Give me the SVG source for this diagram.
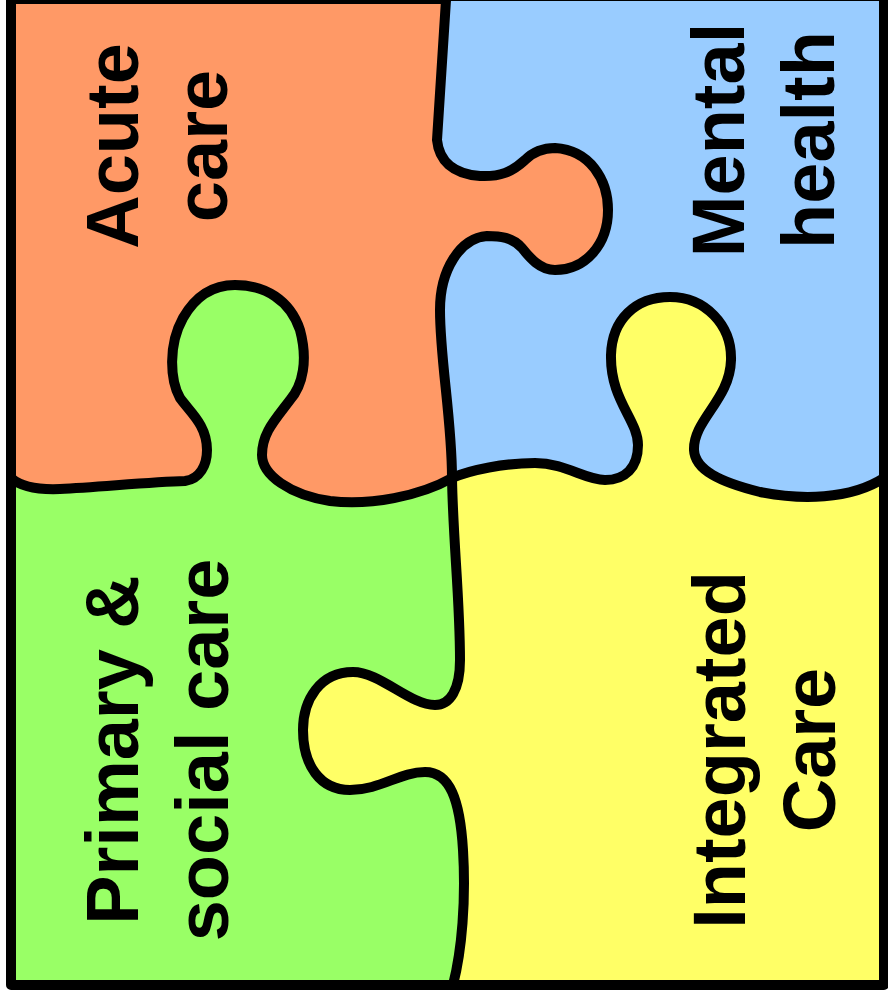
<svg xmlns="http://www.w3.org/2000/svg" width="888" height="999" viewBox="0 0 888 999">
<style>
.outline{fill:none;stroke:#000;stroke-width:10;stroke-linecap:round;stroke-linejoin:round}
.label{font-family:"Liberation Sans",Arial,Helvetica,sans-serif;font-weight:bold;font-size:74px;fill:#000;text-anchor:middle}
</style>
<rect width="888" height="999" fill="#ffffff"/>
<g id="integrated-care">
<rect x="11" y="-1" width="873" height="986" fill="#FFFF66"/>
<text class="label" transform="translate(745,750) rotate(-90)"><tspan x="0" y="0">Integrated</tspan><tspan x="0" y="90">Care</tspan></text>
</g>
<g id="acute-care">
<path fill="#FF9966" d="M11,-1 L446,-1 L446,0 L437,140 C439,160 452,174 480,176 C500,177 512,172 525,160 C535,150 545,148 555,148 C590,150 608,180 608,210 C608,245 585,270 555,270 C540,270 530,258 522,248 C512,237 500,236 487,236 C460,238 440,270 440,310 C440,360 452,420 452,478 L452,520 L11,520 Z"/>
<text class="label" transform="translate(138,146) rotate(-90)"><tspan x="0" y="0">Acute</tspan><tspan x="0" y="89">care</tspan></text>
</g>
<g id="mental-health">
<path fill="#99CCFF" d="M446,0 L437,140 C439,160 452,174 480,176 C500,177 512,172 525,160 C535,150 545,148 555,148 C590,150 608,180 608,210 C608,245 585,270 555,270 C540,270 530,258 522,248 C512,237 500,236 487,236 C460,238 440,270 440,310 C440,360 452,420 452,478 C470,470 505,463 535,463 C565,463 585,480 605,480 C625,480 638,468 638,445 C638,420 610,400 611,355 C612,320 635,297 670,297 C705,297 732,325 731,360 C730,400 693,420 694,450 C695,470 720,482 760,492 C800,500 850,500 884,478 L884,-4 L446,-4 Z"/>
<text class="label" transform="translate(744,140) rotate(-90)"><tspan x="0" y="0">Mental</tspan><tspan x="0" y="90">health</tspan></text>
</g>
<g id="primary-social-care">
<path fill="#99FF66" d="M11,478 C20,486 35,490 60,489 C100,487 150,482 185,481 C200,479 207,465 207,450 C207,425 190,412 180,398 C170,380 168,345 183,318 C195,297 212,285 235,285 C265,285 290,300 300,330 C308,360 303,385 290,400 C275,420 262,433 262,455 C262,475 290,495 330,501 C370,506 420,496 452,478 C453,540 460,600 460,660 C460,690 450,705 435,705 C410,705 380,672 353,672 C320,672 303,700 303,730 C303,765 320,790 350,790 C380,790 400,772 425,772 C450,772 460,800 463,850 C466,900 462,950 453,985 L11,985 Z"/>
<text class="label" transform="translate(138,750) rotate(-90)"><tspan x="0" y="0">Primary &amp;</tspan><tspan x="0" y="90">social care</tspan></text>
</g>
<g id="outlines">
<path class="outline" d="M446,-1 L11,-1 L11,985 L884,985 L884,-4 L446,-4"/>
<path class="outline" d="M446,0 L437,140 C439,160 452,174 480,176 C500,177 512,172 525,160 C535,150 545,148 555,148 C590,150 608,180 608,210 C608,245 585,270 555,270 C540,270 530,258 522,248 C512,237 500,236 487,236 C460,238 440,270 440,310 C440,360 452,420 452,478"/>
<path class="outline" d="M11,478 C20,486 35,490 60,489 C100,487 150,482 185,481 C200,479 207,465 207,450 C207,425 190,412 180,398 C170,380 168,345 183,318 C195,297 212,285 235,285 C265,285 290,300 300,330 C308,360 303,385 290,400 C275,420 262,433 262,455 C262,475 290,495 330,501 C370,506 420,496 452,478"/>
<path class="outline" d="M452,478 C470,470 505,463 535,463 C565,463 585,480 605,480 C625,480 638,468 638,445 C638,420 610,400 611,355 C612,320 635,297 670,297 C705,297 732,325 731,360 C730,400 693,420 694,450 C695,470 720,482 760,492 C800,500 850,500 884,478"/>
<path class="outline" d="M452,478 C453,540 460,600 460,660 C460,690 450,705 435,705 C410,705 380,672 353,672 C320,672 303,700 303,730 C303,765 320,790 350,790 C380,790 400,772 425,772 C450,772 460,800 463,850 C466,900 462,950 453,985"/>
</g>
</svg>
